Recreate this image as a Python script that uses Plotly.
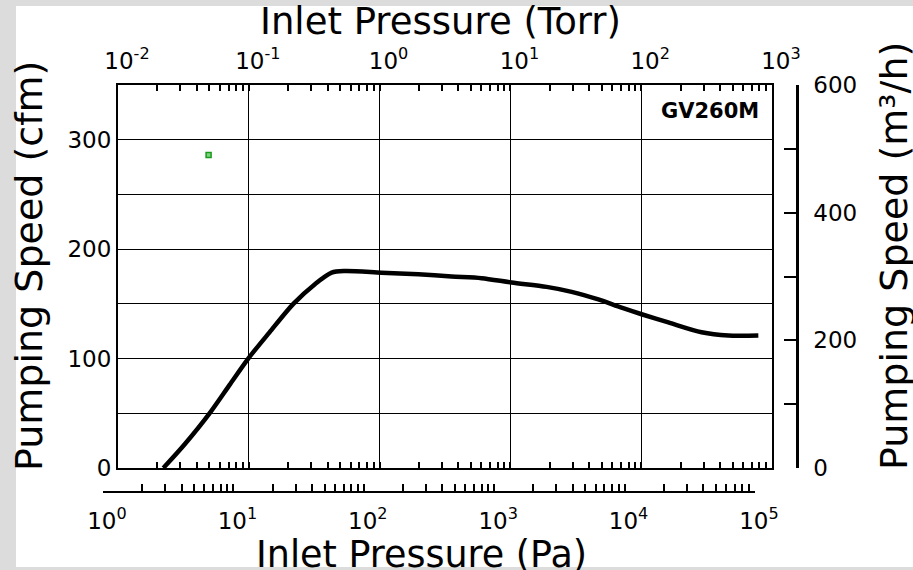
import plotly.graph_objects as go

# ---------------- data ----------------
pressure_pa = [2.96, 4.33, 6.68, 9.51, 13.2, 19.2, 29.2, 42.7, 57.3, 72, 138, 264, 473,
               803, 1361, 2521, 3918, 6270, 9440, 13430, 21500, 38600, 61800, 104800]
speed_cfm = [0, 22, 50, 76, 100, 124, 150, 168, 178.5, 180, 178.5, 177, 175,
             173.5, 169.5, 165.5, 161, 154, 146.5, 140.5, 133, 124, 121, 121]
marker_pa = [6.57]
marker_cfm = [286]

PA_PER_TORR = 133.322

torr_decades = [0.01, 0.1, 1, 10, 100, 1000]
torr_labels = ["10<sup>-2</sup>", "10<sup>-1</sup>", "10<sup>0</sup>",
               "10<sup>1</sup>", "10<sup>2</sup>", "10<sup>3</sup>"]
pa_decades = [1, 10, 100, 1000, 10000, 100000]
pa_labels = ["10<sup>0</sup>", "10<sup>1</sup>", "10<sup>2</sup>",
             "10<sup>3</sup>", "10<sup>4</sup>", "10<sup>5</sup>"]
cfm_ticks = [0, 50, 100, 150, 200, 250, 300, 350]
cfm_ticktext = ["0", "", "100", "", "200", "", "300", ""]
m3h_ticks = [0, 100, 200, 300, 400, 500, 600]
m3h_ticktext = ["0", "", "200", "", "400", "", "600"]
minor_multipliers = [2, 3, 4, 5, 6, 7, 8, 9]

model_label = "GV260M"
title_top = "Inlet Pressure (Torr)"
title_bottom = "Inlet Pressure (Pa)"
title_left = "Pumping Speed (cfm)"
title_right = "Pumping Speed (m³/h)"

# ---------------- geometry ----------------
W, H = 913, 570
L, R, T, B = 103, 797, 85, 492
pw, ph = R - L, B - T


def px(x):
    return (x - L) / pw


def py(y):
    return (B - y) / ph


def log_ticks(decades, labels):
    vals, texts = [], []
    for d, lab in zip(decades, labels):
        vals.append(d)
        texts.append(lab)
        if d != decades[-1]:
            for m in minor_multipliers:
                vals.append(m * d)
                texts.append("")
    return vals, texts


FONT = "DejaVu Sans"

torr_curve = [p / PA_PER_TORR for p in pressure_pa]
torr_marker = [p / PA_PER_TORR for p in marker_pa]

torr_vals, torr_texts = log_ticks(torr_decades, torr_labels)
pa_vals, pa_texts = log_ticks(pa_decades, pa_labels)

fig = go.Figure()
fig.add_trace(go.Scatter(x=torr_curve, y=speed_cfm, mode="lines",
                         line=dict(color="black", width=4.5, shape="spline", smoothing=0.8),
                         showlegend=False, hoverinfo="skip", cliponaxis=False))
fig.add_trace(go.Scatter(x=torr_marker, y=marker_cfm, mode="markers",
                         marker=dict(symbol="square", size=5, color="#7fd47f",
                                     line=dict(color="#1a9a1a", width=1.5)),
                         showlegend=False, hoverinfo="skip"))
# dummy traces that make the extra axes exist
fig.add_trace(go.Scatter(x=[1, 100000], y=[0, 0], xaxis="x2", yaxis="y3",
                         mode="markers", marker=dict(opacity=0),
                         showlegend=False, hoverinfo="skip"))
fig.add_trace(go.Scatter(x=[1], y=[0], xaxis="x", yaxis="y2",
                         mode="markers", marker=dict(opacity=0),
                         showlegend=False, hoverinfo="skip"))
fig.add_trace(go.Scatter(x=[1], y=[0], xaxis="x3", yaxis="y",
                         mode="markers", marker=dict(opacity=0),
                         showlegend=False, hoverinfo="skip"))

tickfont = dict(family=FONT, size=23, color="black")


def title_ann(text, xpix, ypix, size, angle=0):
    return dict(text=text, xref="paper", yref="paper", x=px(xpix), y=py(ypix),
                xanchor="center", yanchor="middle", showarrow=False, textangle=angle,
                font=dict(family=FONT, size=size, color="black"))


fig.update_layout(
    width=W, height=H, autosize=False,
    margin=dict(l=L, r=W - R, t=T, b=H - B, pad=0, autoexpand=False),
    paper_bgcolor="white", plot_bgcolor="white",
    font=dict(family=FONT, color="black"),
    xaxis=dict(
        type="log", range=[-2, 3], domain=[px(118), px(772)],
        side="top", anchor="y", automargin=False,
        showline=True, linecolor="black", linewidth=2, mirror="ticks",
        ticks="inside", ticklen=6, tickwidth=1.5, tickcolor="black",
        tickmode="array", tickvals=torr_vals, ticktext=torr_texts,
        tickfont=tickfont, ticklabelshift=9, ticklabelstandoff=5,
        showgrid=False, zeroline=False,
    ),
    xaxis3=dict(
        type="log", range=[-2, 3], overlaying="x", side="top", automargin=False,
        tickmode="array", tickvals=torr_decades, showticklabels=False, ticks="",
        showgrid=True, gridcolor="black", gridwidth=1.3, showline=False, zeroline=False,
    ),
    yaxis=dict(
        range=[0, 350], domain=[py(468), 1], anchor="x", automargin=False,
        showline=True, linecolor="black", linewidth=2, mirror=True,
        ticks="", tickmode="array", tickvals=cfm_ticks, ticktext=cfm_ticktext,
        tickfont=tickfont, ticklabelstandoff=0,
        showgrid=True, gridcolor="black", gridwidth=1.3, zeroline=False,
    ),
    yaxis2=dict(
        range=[0, 600], overlaying="y", anchor="free", position=1, side="right",
        automargin=False,
        showline=True, linecolor="black", linewidth=2.5,
        ticks="inside", ticklen=12, tickwidth=2, tickcolor="black",
        tickmode="array", tickvals=m3h_ticks, ticktext=m3h_ticktext,
        tickfont=tickfont, ticklabelstandoff=10,
        showgrid=False, zeroline=False,
    ),
    xaxis2=dict(
        type="log", range=[0, 5], domain=[0, px(755)],
        anchor="free", position=0, side="bottom", automargin=False,
        showline=True, linecolor="black", linewidth=2,
        ticks="inside", ticklen=7, tickwidth=1.5, tickcolor="black",
        tickmode="array", tickvals=pa_vals, ticktext=pa_texts,
        tickfont=tickfont, ticklabelshift=4, ticklabelstandoff=8,
        showgrid=False, zeroline=False,
    ),
    yaxis3=dict(range=[0, 1], domain=[0, py(470)], anchor="x2", visible=False),
    annotations=[
        dict(text="<b>" + model_label + "</b>", xref="x domain", yref="y domain",
             x=1, y=1, xanchor="right", yanchor="top", xshift=-11, yshift=-12,
             showarrow=False, font=dict(family=FONT, size=21, color="black")),
        title_ann(title_top, 440, 21, 37),
        title_ann(title_bottom, 421, 554, 36.5),
        title_ann(title_left, 29, 266, 38, -90),
        title_ann(title_right, 894, 256, 38, -90),
    ],
    shapes=[
        dict(type="rect", xref="paper", yref="paper", x0=px(0), x1=px(16),
             y0=py(H), y1=py(0), fillcolor="#dcdcdc", line=dict(width=0), layer="above"),
        dict(type="rect", xref="paper", yref="paper", x0=px(0), x1=px(W),
             y0=py(6), y1=py(0), fillcolor="#dcdcdc", line=dict(width=0), layer="above"),
        dict(type="rect", xref="paper", yref="paper", x0=px(0), x1=px(W),
             y0=py(H), y1=py(567), fillcolor="#dcdcdc", line=dict(width=0), layer="above"),
    ],
)

fig.write_html("out.html", config={"displayModeBar": False},
               post_script="document.body.style.margin='0';")
